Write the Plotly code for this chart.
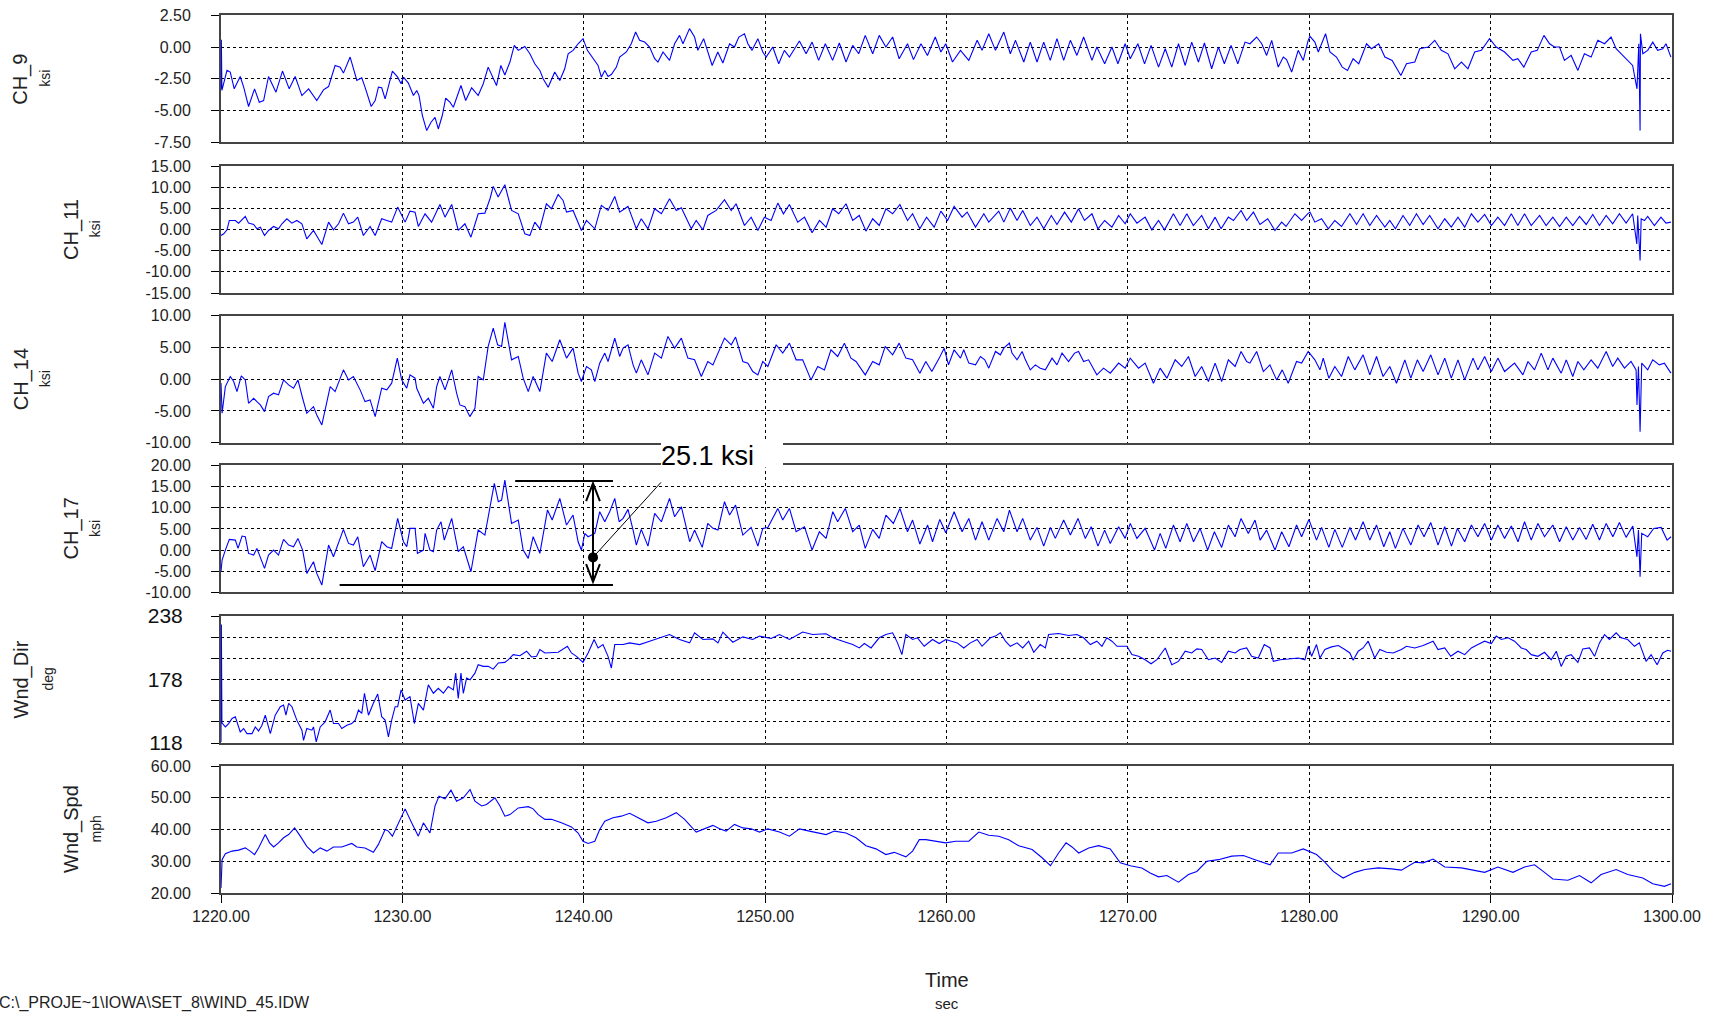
import plotly.graph_objects as go

# ---------------- data (time s, value) ----------------
CH_9 = [(1220.00,-3.29),(1220.02,0.58),(1220.05,-3.42),(1220.33,-1.84),(1220.51,-1.97),(1220.73,-3.29),
(1221.06,-2.32),(1221.25,-3.16),(1221.52,-4.68),(1221.85,-3.29),(1222.11,-4.34),(1222.35,-4.21),(1222.62,-2.32),
(1222.81,-2.89),(1223.03,-3.55),(1223.39,-1.89),(1223.76,-3.29),(1224.09,-2.32),(1224.46,-3.82),(1224.83,-3.29),
(1225.28,-4.21),(1225.65,-3.37),(1225.93,-3.11),(1226.29,-1.45),(1226.57,-1.58),(1226.75,-2.05),(1227.12,-0.79),
(1227.49,-2.63),(1227.76,-2.42),(1227.94,-3.16),(1228.28,-4.68),(1228.50,-4.21),(1228.68,-3.16),(1228.86,-3.21),
(1229.05,-4.08),(1229.45,-1.89),(1229.74,-2.37),(1229.93,-2.89),(1230.06,-2.37),(1230.33,-2.84),(1230.61,-3.82),
(1230.79,-3.42),(1230.92,-3.82),(1231.10,-5.39),(1231.34,-6.58),(1231.58,-5.92),(1231.80,-5.53),(1231.98,-6.45),
(1232.20,-5.39),(1232.39,-4.03),(1232.62,-4.34),(1232.81,-4.74),(1233.23,-3.03),(1233.49,-4.21),(1233.82,-3.21),
(1234.18,-3.82),(1234.46,-2.89),(1234.73,-1.58),(1234.95,-2.24),(1235.19,-3.03),(1235.43,-1.45),(1235.65,-2.20),
(1235.93,-1.18),(1236.17,0.13),(1236.39,-0.26),(1236.75,0.05),(1237.03,-0.53),(1237.30,-1.32),(1237.58,-1.84),
(1237.76,-2.50),(1238.04,-3.16),(1238.40,-1.97),(1238.68,-2.63),(1238.95,-1.71),(1239.14,-0.53),(1239.41,-0.26),
(1239.69,0.26),(1239.96,0.66),(1240.20,-0.26),(1240.51,-0.92),(1240.79,-1.45),(1240.97,-2.37),(1241.16,-1.84),
(1241.34,-2.32),(1241.52,-2.16),(1241.80,-1.58),(1241.98,-0.79),(1242.35,-0.39),(1242.62,0.26),(1242.86,1.18),
(1243.08,0.53),(1243.36,0.39),(1243.63,0.00),(1243.91,-0.92),(1244.09,-1.18),(1244.37,-0.39),(1244.73,-1.05),
(1245.01,0.26),(1245.28,0.92),(1245.47,0.26),(1245.83,1.45),(1246.11,0.79),(1246.29,-0.26),(1246.61,0.66),
(1246.84,-0.39),(1247.08,-1.45),(1247.39,-0.39),(1247.67,-1.26),(1248.04,0.26),(1248.31,0.00),(1248.55,0.79),
(1248.86,1.05),(1249.05,0.26),(1249.28,-0.26),(1249.60,0.66),(1249.87,-0.39),(1250.06,-0.79),(1250.42,0.00),
(1250.75,-1.32),(1251.06,-0.26),(1251.34,-0.79),(1251.89,0.47),(1252.26,-0.53),(1252.59,0.39),(1252.95,-1.05),
(1253.32,0.26),(1253.72,-1.05),(1254.09,0.32),(1254.46,-1.18),(1254.83,0.13),(1255.16,-0.53),(1255.52,0.92),
(1255.93,-0.53),(1256.29,0.92),(1256.66,0.00),(1257.03,0.79),(1257.39,-0.92),(1257.85,0.26),(1258.18,-0.99),
(1258.59,0.26),(1258.95,-0.66),(1259.38,0.79),(1259.69,-0.39),(1259.96,0.26),(1260.33,-1.18),(1260.77,-0.26),
(1261.23,-1.05),(1261.69,0.53),(1261.96,-0.26),(1262.33,1.05),(1262.70,-0.26),(1263.16,1.18),(1263.52,-0.53),
(1263.80,0.53),(1264.26,-1.18),(1264.62,0.39),(1264.99,-1.18),(1265.36,0.39),(1265.72,-1.05),(1266.09,0.66),
(1266.46,-1.05),(1266.83,0.53),(1267.19,-0.66),(1267.56,0.79),(1268.02,-1.05),(1268.29,0.00),(1268.72,-1.32),
(1269.12,0.00),(1269.45,-1.32),(1269.85,0.26),(1270.13,-0.92),(1270.55,0.26),(1270.92,-1.32),(1271.28,0.13),
(1271.69,-1.58),(1272.06,-0.13),(1272.42,-1.58),(1272.79,0.26),(1273.16,-1.45),(1273.52,0.39),(1273.89,-1.18),
(1274.22,0.32),(1274.62,-1.71),(1274.99,0.00),(1275.32,-1.32),(1275.69,0.13),(1276.06,-1.32),(1276.46,0.39),
(1276.73,0.26),(1277.10,0.79),(1277.38,0.26),(1277.65,-0.66),(1277.93,0.53),(1278.29,-1.58),(1278.57,-0.79),
(1278.75,-0.99),(1279.03,-1.97),(1279.39,-0.26),(1279.67,-1.05),(1279.94,0.53),(1280.04,0.84),(1280.31,0.39),
(1280.50,-0.39),(1280.68,0.26),(1280.90,1.05),(1281.14,-0.39),(1281.50,-0.79),(1281.82,-1.58),(1282.11,-1.84),
(1282.42,-0.92),(1282.73,-1.32),(1283.16,0.26),(1283.43,-0.13),(1283.83,0.26),(1284.17,-0.79),(1284.57,-1.05),
(1285.05,-2.24),(1285.36,-1.32),(1285.82,-1.18),(1286.09,-0.13),(1286.55,0.00),(1286.92,0.53),(1287.28,-0.26),
(1287.65,-0.53),(1288.02,-1.71),(1288.39,-1.18),(1288.75,-1.71),(1289.12,-0.39),(1289.49,-0.26),(1289.94,0.66),
(1290.31,0.00),(1290.77,-0.39),(1291.23,-1.05),(1291.50,-0.92),(1291.83,-1.58),(1292.24,-0.39),(1292.57,-0.26),
(1292.94,0.92),(1293.25,0.26),(1293.52,0.00),(1293.80,0.00),(1294.07,-1.05),(1294.44,-0.66),(1294.81,-1.84),
(1295.17,-0.53),(1295.54,-0.79),(1295.91,0.53),(1296.28,0.26),(1296.64,0.79),(1296.92,-0.13),(1297.19,-0.53),
(1297.56,-1.05),(1297.83,-1.45),(1298.07,-3.29),(1298.17,0.26),(1298.24,-6.58),(1298.26,1.05),(1298.39,-0.53),
(1298.66,-0.26),(1298.94,0.39),(1299.21,-0.26),(1299.49,-0.13),(1299.67,0.26),(1299.94,-0.79)]

CH_11 = [(1220.00,-1.42),(1220.15,-1.02),(1220.33,-0.08),(1220.46,2.13),(1220.79,2.13),(1220.97,1.50),
(1221.34,3.08),(1221.52,1.50),(1221.80,1.19),(1221.98,0.16),(1222.17,0.56),(1222.40,-1.42),(1222.62,-0.23),
(1222.90,0.72),(1223.17,0.16),(1223.36,1.35),(1223.63,2.53),(1223.91,1.50),(1224.18,2.13),(1224.46,1.35),
(1224.73,-2.21),(1225.10,-0.23),(1225.56,-3.55),(1225.93,1.74),(1226.20,-0.08),(1226.48,1.35),(1226.75,3.87),
(1227.03,1.35),(1227.30,1.74),(1227.54,2.92),(1227.85,-1.42),(1228.22,0.72),(1228.50,-1.42),(1228.86,2.53),
(1229.14,2.13),(1229.41,1.74),(1229.74,5.29),(1230.15,1.74),(1230.42,4.34),(1230.70,4.11),(1230.88,0.72),
(1231.25,3.71),(1231.61,1.74),(1232.07,5.92),(1232.35,2.92),(1232.72,5.92),(1233.08,-0.23),(1233.45,1.35),
(1233.78,-1.81),(1234.18,3.71),(1234.55,3.87),(1234.83,7.27),(1235.01,10.19),(1235.28,7.66),(1235.65,10.58),
(1236.02,4.50),(1236.39,3.71),(1236.75,-1.02),(1237.03,-1.42),(1237.30,1.74),(1237.58,0.16),(1237.94,6.08),
(1238.22,4.90),(1238.59,8.29),(1238.86,6.87),(1239.05,4.11),(1239.41,4.50),(1239.87,-0.23),(1240.15,2.13),
(1240.61,0.16),(1240.97,5.69),(1241.34,4.50),(1241.71,7.82),(1241.98,4.11),(1242.44,5.45),(1242.90,0.16),
(1243.17,2.53),(1243.54,0.16),(1243.91,4.90),(1244.28,3.71),(1244.73,7.27),(1245.10,4.50),(1245.38,5.13),
(1245.93,0.16),(1246.20,2.13),(1246.57,-0.08),(1246.84,3.32),(1247.30,4.50),(1247.76,7.03),(1248.13,4.50),
(1248.40,6.08),(1248.86,0.95),(1249.23,2.92),(1249.60,-0.23),(1249.96,2.92),(1250.33,2.13),(1250.70,6.24),
(1251.01,3.71),(1251.34,5.92),(1251.80,1.74),(1252.17,2.92),(1252.59,-0.79),(1253.00,2.13),(1253.36,0.56),
(1253.72,4.90),(1254.06,3.71),(1254.46,6.08),(1254.83,2.13),(1255.19,3.32),(1255.56,-0.39),(1255.93,2.53),
(1256.29,0.95),(1256.66,4.90),(1257.03,3.71),(1257.43,5.92),(1257.85,2.13),(1258.13,3.71),(1258.53,0.16),
(1258.90,2.92),(1259.32,0.56),(1259.69,4.34),(1260.06,2.13),(1260.42,5.45),(1260.86,2.92),(1261.14,4.11),
(1261.60,0.56),(1262.06,3.71),(1262.33,1.74),(1262.88,4.34),(1263.16,1.74),(1263.52,5.05),(1263.89,2.13),
(1264.20,4.50),(1264.62,0.95),(1264.99,2.92),(1265.36,0.16),(1265.78,3.32),(1266.09,1.19),(1266.51,4.11),
(1266.88,1.74),(1267.28,4.90),(1267.61,2.13),(1268.02,3.71),(1268.35,0.16),(1268.72,2.13),(1269.12,0.56),
(1269.49,3.32),(1269.85,1.35),(1270.13,3.71),(1270.50,1.50),(1270.95,2.92),(1271.32,-0.08),(1271.69,2.13),
(1272.02,-0.08),(1272.51,3.71),(1272.88,0.95),(1273.25,3.71),(1273.61,0.95),(1274.07,3.32),(1274.44,0.16),
(1274.81,2.92),(1275.14,0.16),(1275.54,2.92),(1275.82,2.13),(1276.24,4.50),(1276.55,2.13),(1276.92,4.11),
(1277.28,1.19),(1277.71,2.53),(1278.11,-0.23),(1278.48,1.74),(1278.72,0.72),(1279.21,3.71),(1279.58,2.13),
(1279.91,3.71),(1280.04,4.11),(1280.31,1.74),(1280.68,2.53),(1281.05,0.16),(1281.41,2.13),(1281.78,0.72),
(1282.24,3.71),(1282.61,1.19),(1282.97,3.71),(1283.34,0.95),(1283.71,3.32),(1284.17,0.56),(1284.44,2.13),
(1284.75,0.16),(1285.17,3.32),(1285.54,0.95),(1285.91,3.71),(1286.28,1.19),(1286.64,3.32),(1287.10,0.16),
(1287.47,2.53),(1287.83,0.56),(1288.20,2.92),(1288.57,0.56),(1288.94,3.71),(1289.30,1.74),(1289.67,3.55),
(1290.04,0.95),(1290.40,2.92),(1290.77,0.95),(1291.14,3.71),(1291.50,0.95),(1291.87,3.71),(1292.24,0.95),
(1292.70,3.32),(1293.06,0.95),(1293.43,2.92),(1293.80,0.72),(1294.17,2.92),(1294.53,0.95),(1294.90,3.08),
(1295.27,1.19),(1295.63,3.55),(1296.00,0.95),(1296.37,3.32),(1296.73,1.35),(1297.10,3.71),(1297.47,1.50),
(1297.83,3.71),(1298.06,-3.40),(1298.11,3.32),(1298.24,-7.30),(1298.30,2.53),(1298.48,2.13),(1298.66,3.08),
(1299.03,0.95),(1299.39,2.92),(1299.67,1.50),(1299.94,1.74)]

CH_14 = [(1220.00,-0.60),(1220.06,-5.37),(1220.24,-1.16),(1220.51,0.42),(1220.70,-0.37),(1220.88,-1.95),
(1221.12,0.53),(1221.34,-0.11),(1221.52,-3.79),(1221.80,-3.00),(1221.98,-3.53),(1222.17,-4.05),(1222.40,-5.11),
(1222.62,-2.74),(1222.90,-2.21),(1223.17,-2.47),(1223.45,-0.11),(1223.73,-0.89),(1224.00,-1.42),(1224.24,-0.11),
(1224.50,-3.00),(1224.73,-5.37),(1225.10,-4.32),(1225.28,-5.63),(1225.56,-7.21),(1225.83,-3.79),(1226.02,-1.16),
(1226.29,-1.95),(1226.75,1.47),(1227.03,-0.11),(1227.30,0.42),(1227.67,-1.68),(1227.94,-3.53),(1228.22,-3.26),
(1228.50,-5.89),(1228.86,-1.42),(1229.14,-1.68),(1229.41,-0.63),(1229.72,3.32),(1229.96,-0.11),(1230.24,-1.42),
(1230.42,0.68),(1230.70,0.16),(1230.79,-1.42),(1231.16,-3.79),(1231.43,-3.00),(1231.71,-4.58),(1231.89,-1.16),
(1232.07,0.42),(1232.35,-1.68),(1232.72,1.47),(1232.99,-2.21),(1233.17,-4.05),(1233.45,-4.32),(1233.72,-5.89),
(1234.00,-4.58),(1234.18,0.42),(1234.46,-0.11),(1234.73,5.16),(1235.01,8.05),(1235.25,5.42),(1235.47,5.16),
(1235.65,8.95),(1236.02,3.05),(1236.39,3.58),(1236.66,0.16),(1236.94,-1.95),(1237.21,0.42),(1237.58,-1.95),
(1237.94,4.11),(1238.26,2.79),(1238.68,6.21),(1239.05,3.32),(1239.41,4.89),(1239.69,0.95),(1239.87,-0.37),
(1240.15,2.00),(1240.42,1.47),(1240.61,-0.37),(1240.88,2.53),(1241.16,4.11),(1241.34,2.79),(1241.71,6.47),
(1241.98,3.58),(1242.17,4.89),(1242.44,5.42),(1242.72,2.26),(1242.90,0.95),(1243.17,3.05),(1243.54,0.68),
(1243.91,4.11),(1244.28,3.32),(1244.64,6.74),(1245.01,4.89),(1245.38,6.47),(1245.74,3.32),(1246.11,3.05),
(1246.48,0.42),(1246.84,2.79),(1247.12,2.26),(1247.39,4.11),(1247.76,6.47),(1248.13,5.42),(1248.37,6.63),
(1248.77,2.79),(1249.05,2.53),(1249.32,1.21),(1249.60,0.68),(1249.87,2.79),(1250.15,2.00),(1250.61,5.42),
(1250.97,4.11),(1251.34,5.68),(1251.71,3.05),(1252.07,3.05),(1252.53,-0.11),(1252.90,2.00),(1253.27,1.47),
(1253.63,4.63),(1254.00,3.58),(1254.37,5.68),(1254.73,3.32),(1255.01,2.79),(1255.52,0.68),(1255.93,2.79),
(1256.29,2.26),(1256.62,5.16),(1257.03,3.84),(1257.39,5.68),(1257.76,3.32),(1258.13,3.05),(1258.53,0.95),
(1258.86,2.79),(1259.19,1.21),(1259.60,3.32),(1259.87,4.89),(1260.11,2.26),(1260.42,4.63),(1260.77,3.32),
(1260.95,4.63),(1261.23,2.53),(1261.60,2.26),(1261.87,3.58),(1262.11,3.05),(1262.33,1.74),(1262.70,4.37),
(1262.97,3.84),(1263.16,4.89),(1263.47,5.68),(1263.61,4.11),(1263.89,3.05),(1264.17,4.37),(1264.35,3.05),
(1264.62,1.47),(1264.90,2.26),(1265.17,1.74),(1265.45,1.47),(1265.82,3.32),(1266.09,2.26),(1266.37,4.11),
(1266.73,2.79),(1267.06,4.11),(1267.28,4.37),(1267.56,2.79),(1267.83,3.05),(1268.29,0.68),(1268.66,1.74),
(1269.03,0.95),(1269.49,2.53),(1269.85,1.74),(1270.13,3.32),(1270.59,1.74),(1270.95,2.53),(1271.41,-0.63),
(1271.78,1.74),(1272.15,0.16),(1272.61,3.05),(1272.97,2.00),(1273.34,3.58),(1273.71,0.42),(1274.07,2.00),
(1274.44,-0.37),(1274.81,2.53),(1275.17,-0.37),(1275.54,3.05),(1275.91,2.00),(1276.24,4.37),(1276.55,2.79),
(1276.73,2.53),(1277.10,4.37),(1277.47,1.21),(1277.83,2.26),(1278.20,-0.11),(1278.51,1.47),(1278.84,-0.63),
(1279.30,2.79),(1279.58,2.53),(1279.94,4.37),(1280.31,3.05),(1280.59,1.47),(1280.77,3.32),(1281.08,0.16),
(1281.41,2.00),(1281.78,0.42),(1282.15,3.58),(1282.51,1.47),(1282.97,3.84),(1283.34,0.68),(1283.71,3.58),
(1284.07,0.42),(1284.44,2.00),(1284.81,-0.63),(1285.27,3.05),(1285.60,0.16),(1285.96,3.05),(1286.28,1.21),
(1286.70,3.84),(1287.10,0.68),(1287.47,3.32),(1287.83,0.16),(1288.20,3.05),(1288.57,-0.11),(1289.03,3.32),
(1289.30,1.47),(1289.67,3.58),(1290.04,1.21),(1290.40,3.32),(1290.77,1.21),(1291.32,2.53),(1291.78,0.68),
(1292.06,2.79),(1292.42,1.47),(1292.79,4.11),(1293.16,1.47),(1293.43,3.32),(1293.89,0.95),(1294.17,3.05),
(1294.53,0.42),(1294.81,2.79),(1295.14,1.47),(1295.54,3.05),(1295.91,1.74),(1296.37,4.37),(1296.73,2.00),
(1297.01,3.32),(1297.38,1.74),(1297.74,2.79),(1298.02,1.47),(1298.07,-4.05),(1298.15,2.00),(1298.24,-8.26),
(1298.33,2.53),(1298.66,1.47),(1298.94,3.05),(1299.30,2.26),(1299.58,2.53),(1299.94,0.95)]

CH_17 = [(1220.00,-5.12),(1220.06,-2.36),(1220.24,0.00),(1220.46,2.52),(1220.79,2.36),(1220.94,0.39),
(1221.16,3.31),(1221.34,3.15),(1221.52,-0.79),(1221.80,-1.18),(1221.98,0.39),(1222.17,-1.57),(1222.40,-4.33),
(1222.62,-1.18),(1222.90,0.00),(1223.17,-1.18),(1223.45,2.52),(1223.73,1.18),(1224.00,0.79),(1224.24,2.76),
(1224.50,0.00),(1224.73,-5.51),(1225.10,-2.76),(1225.28,-5.51),(1225.56,-8.27),(1225.93,1.18),(1226.20,-1.57),
(1226.75,4.88),(1227.03,1.57),(1227.30,1.18),(1227.54,3.15),(1227.85,-3.94),(1228.22,-1.18),(1228.50,-4.88),
(1228.86,1.97),(1229.14,0.79),(1229.41,0.39),(1229.74,7.48),(1230.06,1.97),(1230.24,0.79),(1230.42,5.12),
(1230.70,5.12),(1230.83,-0.79),(1231.16,0.00),(1231.25,3.94),(1231.52,0.00),(1231.71,-0.39),(1231.89,4.72),
(1232.13,6.69),(1232.31,2.36),(1232.72,7.48),(1233.08,-0.39),(1233.36,0.79),(1233.78,-5.12),(1234.18,4.72),
(1234.55,3.54),(1234.83,10.63),(1235.07,15.75),(1235.29,11.42),(1235.47,11.81),(1235.65,16.54),(1236.02,6.30),
(1236.39,7.09),(1236.66,0.00),(1236.94,-1.97),(1237.21,3.15),(1237.58,-0.79),(1238.00,9.45),(1238.26,7.09),
(1238.68,12.20),(1239.05,5.91),(1239.41,8.27),(1239.69,1.97),(1239.87,0.00),(1240.06,3.94),(1240.24,3.15),
(1240.61,3.94),(1240.88,9.06),(1241.16,6.69),(1241.43,9.06),(1241.71,12.20),(1241.95,6.69),(1242.17,7.50),
(1242.44,9.61),(1242.72,4.72),(1242.90,1.18),(1243.17,4.88),(1243.54,0.94),(1243.91,8.66),(1244.28,6.69),
(1244.73,12.20),(1245.01,7.87),(1245.38,10.24),(1245.84,1.97),(1246.11,4.72),(1246.53,0.63),(1246.84,6.30),
(1247.12,5.12),(1247.40,4.72),(1247.76,11.42),(1248.04,8.27),(1248.37,10.63),(1248.77,3.54),(1249.05,4.72),
(1249.23,5.35),(1249.60,0.94),(1249.87,5.12),(1250.15,5.35),(1250.70,9.84),(1250.97,7.09),(1251.34,9.84),
(1251.71,4.33),(1252.17,5.51),(1252.59,0.00),(1252.99,4.33),(1253.36,2.76),(1253.73,9.06),(1254.00,6.69),
(1254.42,9.84),(1254.83,4.33),(1255.19,5.91),(1255.52,0.39),(1255.93,4.88),(1256.29,2.76),(1256.66,8.27),
(1257.07,6.30),(1257.43,9.84),(1257.85,4.33),(1258.13,7.09),(1258.53,1.42),(1258.96,5.91),(1259.23,1.97),
(1259.63,7.24),(1259.96,4.09),(1260.42,9.06),(1260.86,4.33),(1261.23,7.48),(1261.60,2.36),(1261.96,6.69),
(1262.33,2.36),(1262.79,7.48),(1263.16,4.33),(1263.47,9.45),(1263.89,4.33),(1264.20,7.48),(1264.62,2.36),
(1264.99,5.35),(1265.36,0.94),(1265.73,5.35),(1266.00,2.76),(1266.46,7.09),(1266.83,3.54),(1267.25,7.48),
(1267.65,2.76),(1267.98,5.51),(1268.35,0.94),(1268.72,4.72),(1269.03,1.57),(1269.49,5.51),(1269.85,2.76),
(1270.13,6.30),(1270.50,2.76),(1270.95,5.12),(1271.47,0.00),(1271.78,3.94),(1272.09,0.39),(1272.51,5.91),
(1272.88,1.97),(1273.25,6.30),(1273.62,1.97),(1273.98,5.12),(1274.40,0.00),(1274.77,4.33),(1275.17,0.63),
(1275.54,5.91),(1275.91,3.15),(1276.24,7.48),(1276.64,3.94),(1277.01,7.09),(1277.29,2.36),(1277.65,4.72),
(1278.11,0.00),(1278.48,4.33),(1278.88,0.79),(1279.30,5.91),(1279.58,3.15),(1279.98,7.24),(1280.40,2.36),
(1280.68,5.35),(1281.08,0.63),(1281.41,4.88),(1281.82,0.63),(1282.24,5.35),(1282.55,2.36),(1282.97,6.69),
(1283.34,2.36),(1283.71,5.91),(1284.11,0.79),(1284.44,4.33),(1284.75,0.39),(1285.17,5.12),(1285.60,1.18),
(1286.00,5.91),(1286.33,3.15),(1286.70,6.50),(1287.10,1.18),(1287.47,5.51),(1287.84,0.94),(1288.17,5.12),
(1288.57,1.97),(1288.94,5.91),(1289.30,3.15),(1289.67,6.30),(1290.04,2.36),(1290.40,5.91),(1290.77,2.76),
(1291.14,5.67),(1291.51,1.97),(1291.87,6.69),(1292.24,2.36),(1292.61,6.30),(1292.97,3.15),(1293.43,5.91),
(1293.80,1.97),(1294.17,5.51),(1294.53,2.36),(1294.90,5.35),(1295.27,2.52),(1295.63,6.10),(1296.00,2.36),
(1296.37,6.30),(1296.74,3.15),(1297.10,6.50),(1297.47,3.00),(1297.84,5.67),(1298.07,-1.60),(1298.15,4.72),
(1298.24,-6.30),(1298.33,3.94),(1298.66,3.15),(1298.99,5.12),(1299.40,5.35),(1299.73,2.36),(1299.95,3.15)]

WND_DIR = [(1220.00,119.0),(1220.02,230.0),(1220.05,137.0),(1220.24,133.2),(1220.42,136.4),(1220.61,141.2),
(1220.79,142.8),(1220.88,138.0),(1221.06,128.5),(1221.25,131.7),(1221.43,126.9),(1221.71,126.9),(1221.89,133.2),
(1222.07,129.4),(1222.26,134.8),(1222.44,144.3),(1222.72,126.9),(1222.99,144.3),(1223.27,152.3),(1223.45,153.9),
(1223.58,144.3),(1223.73,155.5),(1223.91,152.3),(1224.18,139.6),(1224.46,130.1),(1224.55,120.5),(1224.73,131.7),
(1225.01,130.1),(1225.10,133.2),(1225.25,119.0),(1225.47,133.2),(1225.74,138.0),(1226.02,149.1),(1226.20,136.4),
(1226.48,136.4),(1226.66,131.7),(1226.94,134.8),(1227.21,136.4),(1227.40,139.6),(1227.58,149.1),(1227.76,146.0),
(1227.91,165.0),(1228.13,144.3),(1228.40,155.5),(1228.64,164.3),(1228.86,142.8),(1229.05,139.6),(1229.23,123.7),
(1229.41,139.6),(1229.60,152.3),(1229.74,152.3),(1229.93,168.2),(1230.15,158.6),(1230.42,161.8),(1230.66,136.4),
(1230.88,155.5),(1231.16,149.1),(1231.43,172.9),(1231.71,165.0),(1231.98,169.7),(1232.26,165.0),(1232.53,171.3),
(1232.81,168.2),(1232.94,184.0),(1233.08,160.2),(1233.23,184.0),(1233.36,165.0),(1233.54,179.3),(1233.73,177.7),
(1234.00,184.0),(1234.18,192.0),(1234.46,190.4),(1234.73,190.4),(1235.01,187.8),(1235.29,193.6),(1235.65,194.2),
(1235.84,196.7),(1236.11,201.5),(1236.48,200.5),(1236.85,204.7),(1237.12,199.3),(1237.40,199.9),(1237.58,206.3),
(1237.86,203.1),(1238.22,203.1),(1238.59,203.7),(1239.10,209.4),(1239.32,203.1),(1239.60,199.9),(1239.96,194.2),
(1240.24,203.1),(1240.57,215.8),(1240.79,207.8),(1241.06,211.0),(1241.34,199.9),(1241.52,188.8),(1241.71,211.0),
(1242.17,211.0),(1242.53,212.6),(1243.08,211.0),(1243.63,214.2),(1244.18,217.4),(1244.73,220.5),(1245.28,215.8),
(1245.84,212.6),(1246.11,222.1),(1246.57,215.8),(1247.12,216.4),(1247.40,212.6),(1247.67,222.8),(1248.22,213.2),
(1248.77,218.3),(1249.32,215.8),(1249.69,219.0),(1250.33,216.7),(1250.79,220.5),(1251.34,215.8),(1252.07,222.8),
(1252.62,220.5),(1253.36,221.2),(1253.73,217.4),(1254.28,214.2),(1254.83,211.0),(1255.19,207.8),(1255.47,212.0),
(1255.84,207.8),(1256.29,217.4),(1256.66,220.5),(1257.03,222.1),(1257.30,212.6),(1257.54,201.5),(1257.76,220.5),
(1258.13,215.8),(1258.40,217.4),(1258.77,209.4),(1259.23,215.8),(1259.60,212.0),(1259.96,215.8),(1260.33,214.2),
(1260.59,212.6),(1260.95,207.8),(1261.32,212.6),(1261.69,215.8),(1261.96,209.4),(1262.42,217.4),(1262.70,219.0),
(1262.97,222.1),(1263.25,214.2),(1263.52,209.4),(1263.89,212.6),(1264.20,207.8),(1264.53,214.2),(1264.81,203.7),
(1265.17,211.0),(1265.45,207.8),(1265.63,220.5),(1266.18,221.5),(1266.73,219.6),(1267.19,220.5),(1267.56,217.4),
(1267.93,211.0),(1268.29,214.2),(1268.57,209.4),(1268.84,217.4),(1269.12,214.2),(1269.40,209.4),(1269.95,209.4),
(1270.22,201.5),(1270.59,199.9),(1270.95,196.7),(1271.28,192.9),(1271.60,196.7),(1272.06,207.8),(1272.42,192.0),
(1272.79,195.1),(1273.16,204.7),(1273.52,203.1),(1273.80,206.9),(1274.07,206.3),(1274.44,196.7),(1274.81,198.3),
(1275.17,194.2),(1275.54,204.7),(1275.91,203.1),(1276.18,206.3),(1276.55,207.8),(1276.82,199.9),(1277.19,198.3),
(1277.52,211.0),(1277.84,207.8),(1278.02,195.1),(1278.39,196.7),(1278.84,197.3),(1279.40,198.3),(1279.76,196.7),
(1279.95,209.4),(1280.13,199.9),(1280.40,211.0),(1280.59,198.3),(1280.86,206.3),(1281.23,208.8),(1281.60,210.1),
(1281.96,206.3),(1282.24,203.1),(1282.42,196.1),(1282.70,204.7),(1282.97,207.8),(1283.25,214.2),(1283.43,206.3),
(1283.61,198.3),(1283.89,206.3),(1284.26,203.7),(1284.62,203.1),(1285.08,206.3),(1285.36,209.4),(1285.82,207.8),
(1286.28,210.1),(1286.83,214.2),(1287.10,206.3),(1287.47,207.8),(1287.80,199.9),(1288.20,204.7),(1288.57,201.5),
(1288.94,207.8),(1289.30,211.0),(1289.67,214.2),(1290.04,212.0),(1290.31,219.0),(1290.59,215.8),(1290.96,217.4),
(1291.32,214.2),(1291.69,207.8),(1291.96,206.3),(1292.24,201.5),(1292.61,199.9),(1292.97,203.7),(1293.34,196.7),
(1293.62,204.7),(1293.89,190.4),(1294.17,199.9),(1294.44,201.5),(1294.81,194.2),(1295.08,206.9),(1295.45,207.8),
(1295.73,199.9),(1296.00,212.6),(1296.28,220.5),(1296.55,215.8),(1296.92,222.1),(1297.19,217.4),(1297.56,215.8),
(1297.93,209.4),(1298.20,212.6),(1298.57,195.1),(1298.85,201.5),(1299.18,192.0),(1299.49,203.1),(1299.76,205.6),
(1299.95,204.7)]

WND_SPD = [(1220.00,21.6),(1220.02,30.0),(1220.06,30.5),(1220.24,32.4),(1220.61,33.2),(1220.97,33.5),
(1221.34,34.2),(1221.61,33.2),(1221.85,32.1),(1222.07,34.2),(1222.44,38.4),(1222.68,35.8),(1222.90,34.5),
(1223.17,35.8),(1223.45,37.4),(1223.73,38.4),(1224.06,40.5),(1224.37,37.9),(1224.73,34.7),(1225.10,32.6),
(1225.47,34.2),(1225.84,33.2),(1226.20,34.5),(1226.66,34.5),(1227.21,35.6),(1227.49,34.5),(1227.94,34.2),
(1228.40,32.8),(1228.68,35.3),(1229.05,40.0),(1229.23,39.5),(1229.45,37.9),(1229.78,42.1),(1230.15,46.5),
(1230.51,42.1),(1230.88,37.9),(1231.16,42.1),(1231.34,40.5),(1231.52,38.9),(1231.80,47.4),(1232.02,50.5),
(1232.35,49.7),(1232.68,52.4),(1232.99,48.9),(1233.36,50.0),(1233.73,52.6),(1234.00,48.9),(1234.37,47.4),
(1234.64,47.9),(1235.10,50.0),(1235.38,47.4),(1235.65,44.2),(1235.93,44.7),(1236.39,46.8),(1236.94,47.2),
(1237.21,46.5),(1237.49,44.7),(1237.86,43.2),(1238.22,43.2),(1238.77,42.1),(1239.32,40.8),(1239.69,38.9),
(1239.96,36.3),(1240.24,35.6),(1240.61,36.3),(1240.88,40.0),(1241.16,42.6),(1241.61,43.7),(1242.07,44.2),
(1242.53,45.1),(1242.99,43.7),(1243.54,42.1),(1244.00,42.6),(1244.55,43.7),(1245.10,45.3),(1245.56,43.2),
(1246.20,39.2),(1246.75,40.5),(1247.12,41.3),(1247.49,40.2),(1247.85,39.5),(1248.31,41.6),(1248.77,40.5),
(1249.23,40.2),(1249.69,39.2),(1250.15,40.2),(1250.79,39.2),(1251.34,37.9),(1251.89,40.2),(1252.44,39.5),
(1252.99,38.7),(1253.36,38.4),(1253.82,39.5),(1254.46,38.9),(1255.01,37.4),(1255.56,34.9),(1256.11,33.9),
(1256.66,32.1),(1257.12,32.8),(1257.76,31.4),(1258.13,33.2),(1258.50,36.8),(1258.86,36.8),(1259.41,36.3),
(1259.96,35.8),(1260.50,36.3),(1261.23,36.3),(1261.78,39.2),(1262.33,38.2),(1262.88,37.9),(1263.43,36.8),
(1263.98,34.9),(1264.72,33.7),(1265.27,31.1),(1265.73,28.6),(1266.18,32.6),(1266.59,35.8),(1266.92,34.5),
(1267.29,32.6),(1267.84,34.2),(1268.39,34.9),(1269.03,33.9),(1269.58,29.5),(1270.13,28.6),(1270.77,27.9),
(1271.23,26.3),(1271.69,25.1),(1272.15,25.5),(1272.79,23.4),(1273.34,25.8),(1273.80,26.8),(1274.35,30.0),
(1274.99,30.5),(1275.73,31.6),(1276.37,31.8),(1277.01,30.5),(1277.84,28.9),(1278.29,32.6),(1279.03,32.6),
(1279.67,33.9),(1280.40,32.1),(1280.86,29.7),(1281.32,26.8),(1281.87,24.7),(1282.51,26.5),(1283.06,27.4),
(1283.80,27.9),(1284.53,27.6),(1285.08,27.2),(1285.82,29.7),(1286.28,29.5),(1286.83,30.7),(1287.47,28.2),
(1288.39,27.9),(1288.94,27.4),(1289.67,26.5),(1290.40,28.2),(1291.23,26.5),(1291.87,28.2),(1292.42,28.9),
(1292.97,26.5),(1293.43,24.4),(1294.26,24.0),(1294.90,25.5),(1295.54,23.2),(1296.09,25.8),(1296.92,27.4),
(1297.56,25.8),(1298.39,24.7),(1298.94,22.9),(1299.58,22.1),(1299.95,22.9)]

CHANNELS = ["CH_9", "CH_11", "CH_14", "CH_17", "Wnd_Dir", "Wnd_Spd"]
UNITS = ["ksi", "ksi", "ksi", "ksi", "deg", "mph"]
SERIES = [CH_9, CH_11, CH_14, CH_17, WND_DIR, WND_SPD]
Y_RANGES = [(-7.5, 2.5), (-15, 15), (-10, 10), (-10, 20), (118, 238), (20, 60)]
Y_TICKS = [[-7.5, -5, -2.5, 0, 2.5],
           [-15, -10, -5, 0, 5, 10, 15],
           [-10, -5, 0, 5, 10],
           [-10, -5, 0, 5, 10, 15, 20],
           [118, 138, 158, 178, 198, 218, 238],
           [20, 30, 40, 50, 60]]
DIR_LABELS = {118: "118", 178: "178", 238: "238"}
X_TICKS = [1220, 1230, 1240, 1250, 1260, 1270, 1280, 1290, 1300]
X_TITLE, X_UNIT = "Time", "sec"
FILE_LABEL = "C:\\_PROJE~1\\IOWA\\SET_8\\WIND_45.IDW"

# 25.1 ksi range annotation on CH_17
RANGE_TEXT = "25.1 ksi"
RANGE_MAX, RANGE_MIN = 16.3, -8.27
RANGE_MAX_T0, RANGE_MIN_T0, RANGE_T1 = 1236.22, 1226.54, 1241.61
ARROW_T, ARROW_TOP, ARROW_BOT = 1240.51, 15.75, -7.5
DOT_T, DOT_V = 1240.51, -1.73
LEADER_T, LEADER_V = 1244.26, 16.0

# ---------------- layout geometry (pixels) ----------------
W, H = 1713, 1014
ML, MR, MT, MB = 221, 41, 15, 121
PW, PH = W - ML - MR, H - MT - MB
PANEL_TOPS = [15.3, 166.0, 315.7, 465.4, 616.0, 766.0]
PANEL_H = 127.0
NAME_X = [21, 71.5, 21, 71.5, 21, 71.5]
UNIT_X = [45, 95, 45, 95, 47, 95]

def px_x(p):
    return (p - ML) / PW

def px_y(p):
    return (H - MB - p) / PH

FONT = "Liberation Sans, Arial, sans-serif"
TXT = "#222222"

def fmt(v):
    return f"{v:.2f}"

fig = go.Figure()
layout = dict(
    width=W, height=H, margin=dict(l=ML, r=MR, t=MT, b=MB, pad=0, autoexpand=False),
    paper_bgcolor="white", plot_bgcolor="white", showlegend=False,
    font=dict(family=FONT, color=TXT, size=16),
)
annotations = []
shapes = []

for i, (name, unit, data, yr, yt) in enumerate(zip(CHANNELS, UNITS, SERIES, Y_RANGES, Y_TICKS)):
    k = i + 1
    xa = "x" if k == 1 else f"x{k}"
    ya = "y" if k == 1 else f"y{k}"
    ts = [p[0] for p in data]
    vs = [p[1] for p in data]
    fig.add_trace(go.Scatter(x=ts, y=vs, mode="lines", xaxis=xa, yaxis=ya,
                             line=dict(color="#0000FF", width=1.1), hoverinfo="skip"))
    top = PANEL_TOPS[i]
    bot = top + PANEL_H
    last = (k == len(CHANNELS))
    is_dir = (name == "Wnd_Dir")
    layout["xaxis" if k == 1 else f"xaxis{k}"] = dict(
        domain=[0, 1], anchor=ya, range=[1220, 1300], automargin=False,
        tickvals=X_TICKS, ticktext=[fmt(v) for v in X_TICKS],
        showticklabels=last, ticks="outside" if last else "", ticklen=8, tickcolor="#000",
        tickfont=dict(size=16, color=TXT, family=FONT),
        showgrid=True, gridcolor="#000000", gridwidth=1, griddash="3px,3px",
        showline=True, mirror=True, linecolor="#444444", linewidth=2, zeroline=False,
        fixedrange=True,
    )
    if is_dir:
        ttext = [DIR_LABELS.get(v, "") for v in yt]
        tfont = dict(size=21, color="#111111", family=FONT)
        stand = 24
    else:
        ttext = [fmt(v) for v in yt]
        tfont = dict(size=16, color=TXT, family=FONT)
        stand = 17
    layout["yaxis" if k == 1 else f"yaxis{k}"] = dict(
        domain=[px_y(bot), px_y(top)], anchor=xa, range=list(yr), automargin=False,
        tickvals=yt, ticktext=ttext, tickfont=tfont, ticklabelstandoff=stand,
        ticks="outside", ticklen=8, tickcolor="#000", tickwidth=1,
        showgrid=True, gridcolor="#000000", gridwidth=1, griddash="3px,3px",
        showline=True, mirror=True, linecolor="#444444", linewidth=2, zeroline=False,
        fixedrange=True,
    )
    yc = px_y((top + bot) / 2)
    annotations.append(dict(text=name, x=px_x(NAME_X[i]), y=yc, xref="paper", yref="paper",
                            showarrow=False, textangle=-90, xanchor="center", yanchor="middle",
                            font=dict(size=20, color=TXT, family=FONT)))
    annotations.append(dict(text=unit, x=px_x(UNIT_X[i]), y=yc, xref="paper", yref="paper",
                            showarrow=False, textangle=-90, xanchor="center", yanchor="middle",
                            font=dict(size=14, color=TXT, family=FONT)))

# x title, unit, file label
annotations.append(dict(text=X_TITLE, x=0.5, y=px_y(980), xref="paper", yref="paper", showarrow=False,
                        xanchor="center", yanchor="middle", font=dict(size=20, color=TXT, family=FONT)))
annotations.append(dict(text=X_UNIT, x=0.5, y=px_y(1003), xref="paper", yref="paper", showarrow=False,
                        xanchor="center", yanchor="middle", font=dict(size=15, color=TXT, family=FONT)))
annotations.append(dict(text=FILE_LABEL, x=px_x(-3), y=px_y(1003), xref="paper", yref="paper", showarrow=False,
                        xanchor="left", yanchor="middle", font=dict(size=16, color=TXT, family=FONT)))

# ---------------- 25.1 ksi range marker on CH_17 panel ----------------
XR, YR = "x4", "y4"
line_k = dict(color="black", width=2)
shapes.append(dict(type="line", xref=XR, yref=YR, x0=RANGE_MAX_T0, x1=RANGE_T1, y0=RANGE_MAX, y1=RANGE_MAX, line=line_k))
shapes.append(dict(type="line", xref=XR, yref=YR, x0=RANGE_MIN_T0, x1=RANGE_T1, y0=RANGE_MIN, y1=RANGE_MIN, line=line_k))
shapes.append(dict(type="line", xref=XR, yref=YR, x0=ARROW_T, x1=ARROW_T, y0=ARROW_BOT, y1=ARROW_TOP, line=line_k))
hw, hh = 0.38, 4.2
shapes.append(dict(type="path", xref=XR, yref=YR, line=line_k,
                   path=f"M {ARROW_T-hw},{ARROW_TOP-hh} L {ARROW_T},{ARROW_TOP} L {ARROW_T+hw},{ARROW_TOP-hh}"))
shapes.append(dict(type="path", xref=XR, yref=YR, line=line_k,
                   path=f"M {ARROW_T-hw},{ARROW_BOT+hh} L {ARROW_T},{ARROW_BOT} L {ARROW_T+hw},{ARROW_BOT+hh}"))
shapes.append(dict(type="line", xref=XR, yref=YR, x0=DOT_T, x1=LEADER_T, y0=DOT_V, y1=LEADER_V,
                   line=dict(color="black", width=1)))
# white label box over the panel borders
shapes.append(dict(type="rect", xref="paper", yref="paper", layer="above",
                   x0=px_x(661), x1=px_x(783), y0=px_y(467.5), y1=px_y(440.5),
                   fillcolor="white", line=dict(width=0)))
annotations.append(dict(text=RANGE_TEXT, x=px_x(659), y=px_y(456), xref="paper", yref="paper",
                        showarrow=False, xanchor="left", yanchor="middle",
                        font=dict(size=27, color="#000", family=FONT)))
fig.add_trace(go.Scatter(x=[DOT_T], y=[DOT_V], mode="markers", xaxis=XR, yaxis=YR,
                         marker=dict(color="black", size=10), hoverinfo="skip"))

layout["annotations"] = annotations
layout["shapes"] = shapes
fig.update_layout(**layout)
fig.write_html("out.html", config={"displayModeBar": False})
